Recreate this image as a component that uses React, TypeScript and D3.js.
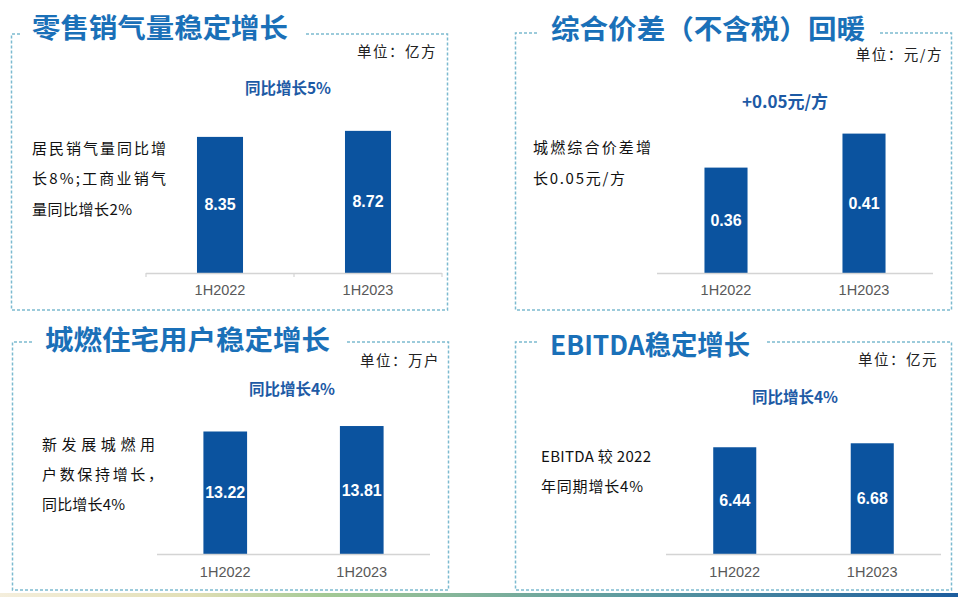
import React from "react";
import * as d3 from "d3";

const categories = ["1H2022", "1H2023"];
const retailGasValues = [8.35, 8.72];
const priceSpreadValues = [0.36, 0.41];
const householdValues = [13.22, 13.81];
const ebitdaValues = [6.44, 6.68];

const titles = ["零售销气量稳定增长", "综合价差（不含税）回暖", "城燃住宅用户稳定增长", "EBITDA稳定增长"];
const units = ["单位：亿方", "单位：元/方", "单位：万户", "单位：亿元"];
const growthNotes = ["同比增长5%", "+0.05元/方", "同比增长4%", "同比增长4%"];
const sideNotes = [
  ["居民销气量同比增", "长8%;工商业销气", "量同比增长2%"],
  ["城燃综合价差增", "长0.05元/方"],
  ["新发展城燃用", "户数保持增长，", "同比增长4%"],
  ["EBITDA 较 2022", "年同期增长4%"],
];

const BAR = "#0b539f";
const TITLE = "#1a70b8";
const NOTE = "#1d5aa5";
const DASH = "#7cbad0";
const CJK = "'Noto Sans CJK SC', 'Noto Sans', sans-serif";
const ARIAL = "'Liberation Sans', Arial, sans-serif";

type PanelCfg = {
  values: number[];
  idx: number;
  box: [number, number, number, number];
  gap: [number, number];
  titleX: number;
  titleY: number;
  titleLen: number;
  unitX: number;
  unitY: number;
  noteX: number;
  noteY: number;
  noteSize: number;
  side: { x: number; y0: number; dy: number; lens: (number | null)[] };
  axis: [number, number];
  baseline: number;
  domain: [number, number];
  rangeH: number;
  pad: number;
  ticks: boolean;
  labelY: number;
};

const panels: PanelCfg[] = [
  {
    values: retailGasValues, idx: 0,
    box: [11.5, 34, 447.5, 310], gap: [20, 305],
    titleX: 32, titleY: 26, titleLen: 256,
    unitX: 437, unitY: 50, noteX: 288, noteY: 87, noteSize: 15.5,
    side: { x: 32, y0: 147, dy: 30.5, lens: [134, 134, 100] },
    axis: [146, 442], baseline: 273, domain: [0, 10], rangeH: 163, pad: 0.689, ticks: true, labelY: 290,
  },
  {
    values: priceSpreadValues, idx: 1,
    box: [515.5, 33, 951.5, 310], gap: [537, 880],
    titleX: 551, titleY: 27, titleLen: 314,
    unitX: 943, unitY: 53, noteX: 785, noteY: 100, noteSize: 17,
    side: { x: 533, y0: 146, dy: 31, lens: [118, 92] },
    axis: [657, 933], baseline: 273, domain: [0.205, 0.455], rangeH: 170, pad: 0.688, ticks: false, labelY: 290,
  },
  {
    values: householdValues, idx: 2,
    box: [12.5, 342, 448.5, 590], gap: [32, 345],
    titleX: 45, titleY: 338, titleLen: 285,
    unitX: 440, unitY: 359, noteX: 292, noteY: 388, noteSize: 15.5,
    side: { x: 42, y0: 443, dy: 30, lens: [113, 121, 83] },
    axis: [157, 430], baseline: 554, domain: [0, 15], rangeH: 139, pad: 0.68, ticks: false, labelY: 572,
  },
  {
    values: ebitdaValues, idx: 3,
    box: [515.5, 342, 951.5, 590], gap: [537, 765],
    titleX: 550, titleY: 343, titleLen: 200,
    unitX: 938, unitY: 358, noteX: 795, noteY: 396, noteSize: 15.5,
    side: { x: 541, y0: 455, dy: 30, lens: [110, 102] },
    axis: [666, 941], baseline: 554, domain: [0, 8], rangeH: 132.6, pad: 0.687, ticks: false, labelY: 572,
  },
];

function Panel({ p }: { p: PanelCfg }) {
  const x = d3.scaleBand<string>().domain(categories).range(p.axis).paddingInner(p.pad).paddingOuter(p.pad / 2);
  const y = d3.scaleLinear().domain(p.domain).range([p.baseline, p.baseline - p.rangeH]);
  const [x0, y0, x1, y1] = p.box;
  const fmt = (v: number) => v.toFixed(2);
  return (
    <g>
      <path
        d={`M${p.gap[0]},${y0}H${x0}V${y1}H${x1}V${y0}H${p.gap[1]}`}
        fill="none" stroke={DASH} strokeWidth={1.5} strokeDasharray="3,2"
      />
      <text x={p.titleX} y={p.titleY} dominantBaseline="central" fontFamily={CJK} fontWeight={700}
        fontSize={27} fill={TITLE} textLength={p.titleLen} lengthAdjust="spacingAndGlyphs">
        {titles[p.idx]}
      </text>
      <text x={p.unitX} y={p.unitY} dominantBaseline="central" textAnchor="end" fontFamily={CJK}
        fontSize={14.5} letterSpacing={1.5} fill="#222">
        {units[p.idx]}
      </text>
      <text x={p.noteX} y={p.noteY} dominantBaseline="central" textAnchor="middle" fontFamily={CJK}
        fontWeight={700} fontSize={p.noteSize} fill={NOTE}>
        {growthNotes[p.idx]}
      </text>
      {sideNotes[p.idx].map((line, i) => (
        <text key={i} x={p.side.x} y={p.side.y0 + i * p.side.dy} dominantBaseline="central" fontFamily={CJK}
          fontSize={15} fill="#111"
          {...(p.side.lens[i] ? { textLength: p.side.lens[i] as number, lengthAdjust: "spacing" } : {})}>
          {line}
        </text>
      ))}
      {p.values.map((v, i) => {
        const c = categories[i];
        const bx = x(c) as number;
        const top = y(v);
        return (
          <g key={c}>
            <rect x={bx} y={top} width={x.bandwidth()} height={p.baseline - top} fill={BAR} />
            <text x={bx + x.bandwidth() / 2} y={(top + p.baseline) / 2} dominantBaseline="central"
              textAnchor="middle" fontFamily={ARIAL} fontWeight={700} fontSize={16} fill="#fff">
              {fmt(v)}
            </text>
            <text x={bx + x.bandwidth() / 2} y={p.labelY} dominantBaseline="central" textAnchor="middle"
              fontFamily={ARIAL} fontSize={14.5} fill="#595959">
              {c}
            </text>
          </g>
        );
      })}
      <line x1={p.axis[0]} x2={p.axis[1]} y1={p.baseline + 0.5} y2={p.baseline + 0.5} stroke="#d4d4d4" strokeWidth={1.5} />
      {p.ticks &&
        [p.axis[0], (p.axis[0] + p.axis[1]) / 2, p.axis[1]].map((tx, i) => (
          <line key={i} x1={tx} x2={tx} y1={p.baseline} y2={p.baseline + 4} stroke="#d4d4d4" strokeWidth={1.2} />
        ))}
    </g>
  );
}

export default function App() {
  return (
    <svg width={958} height={597} style={{ position: "absolute", left: 0, top: 0, background: "#fff" }}>
      <defs>
        <linearGradient id="stripe" x1="0" x2="1" y1="0" y2="0">
          <stop offset="0" stopColor="#f4eedc" />
          <stop offset="0.2" stopColor="#e2dfb6" />
          <stop offset="0.34" stopColor="#a3c995" />
          <stop offset="0.66" stopColor="#5c9aa0" />
          <stop offset="1" stopColor="#1c5d9e" />
        </linearGradient>
      </defs>
      <rect x={0} y={0} width={958} height={597} fill="#fff" />
      {panels.map((p) => (
        <Panel key={p.idx} p={p} />
      ))}
      <rect x={0} y={593} width={958} height={4} fill="url(#stripe)" />
    </svg>
  );
}
